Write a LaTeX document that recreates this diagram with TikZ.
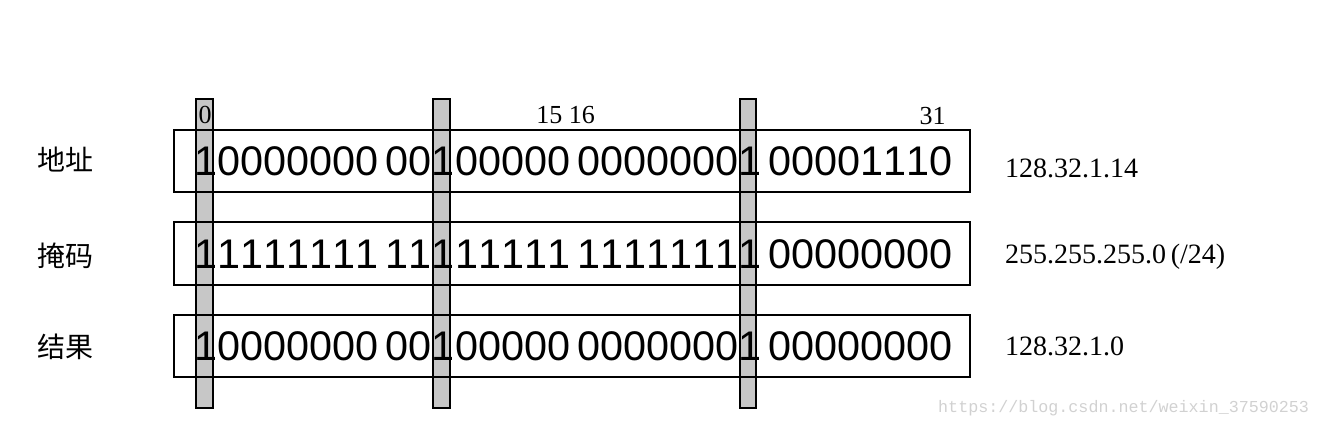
\documentclass[tikz,border=0pt]{standalone}
\usepackage{fontspec}
\setmainfont{Liberation Serif}
\setsansfont[Kerning=Off]{Liberation Sans}
\setmonofont{Liberation Mono}
\newfontfamily\cjk{Noto Sans CJK SC}
\newcommand\gap{\hspace{7pt}}

\tikzset{
  rowbox/.style={draw, line width=1.2pt},
  bitbar/.style={draw, line width=1.2pt, fill=black!22},
  bits/.style={anchor=base west, inner sep=0pt, font=\sffamily\fontsize{41.4}{44}\selectfont},
  rowname/.style={anchor=west, inner sep=0pt, font=\cjk\fontsize{28}{30}\selectfont},
  ipaddr/.style={anchor=base west, inner sep=0pt, font=\fontsize{28}{30}\selectfont},
  bitno/.style={anchor=base, inner sep=0pt, font=\fontsize{26}{28}\selectfont}
}

\begin{document}
\begin{tikzpicture}[x=1pt, y=-1pt]
\useasboundingbox (0,0) rectangle (1320,429);
% Bars
\def \BarA {196}
\def \BarB {433}
\def \BarC {740}

% grey bars behind the rows
\draw[bitbar] (\BarA,99) rectangle ++(17,309);
\draw[bitbar] (\BarB,99) rectangle ++(17,309);
\draw[bitbar] (\BarC,99) rectangle ++(16,309);

% rows, each separately
\draw[rowbox] (174,130) rectangle (970,192);
\draw[rowbox] (174,222) rectangle (970,285);
\draw[rowbox] (174,315) rectangle (970,377);
%
\node[bitno] (zero) at (205,123) {0};
\node[bitno] (fifteen) at (565.5,123) {15 16};
\node[bitno] (thirtyone) at (932.5,124) {31};

\node[rowname] (addrname) at (37,160) {地址};
\node[rowname] (maskname) at (37,256) {掩码};
\node[rowname] (resname) at (37,347) {结果};

\node[bits] (addrbits) at (194.6,175) {10000000\gap 00100000\gap 00000001\gap 00001110};
\node[bits] (maskbits) at (194.6,268) {11111111\gap 11111111\gap 11111111\gap 00000000};
\node[bits] (resbits) at (194.6,360) {10000000\gap 00100000\gap 00000001\gap 00000000};

\node[ipaddr] (addrip) at (1005,177) {128.32.1.14};
\node[ipaddr] (maskip) at (1005,263) {255.255.255.0\,(/24)};
\node[ipaddr] (resip) at (1005,355) {128.32.1.0};

\node[anchor=west, inner sep=0pt, text=black!18, font=\ttfamily\fontsize{16.7}{18}\selectfont] (mark) at (938,408) {https://blog.csdn.net/weixin\_37590253};
\end{tikzpicture}
\end{document}
